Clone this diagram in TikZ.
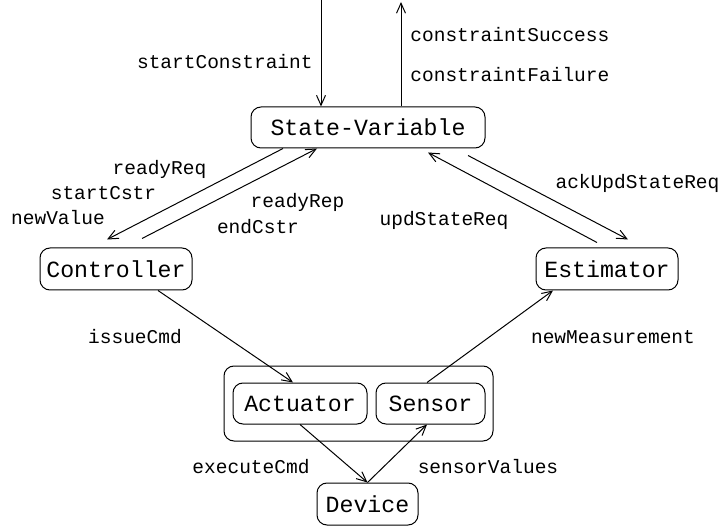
\documentclass[tikz,border=0pt]{standalone}
\usepackage{fontspec}
\setmonofont{Liberation Mono}
\usepackage{tikz}
\usetikzlibrary{arrows.meta,positioning}

\tikzset{
	block/.style={draw, rounded corners=5pt, line width=0.5pt, inner sep=0pt,
		minimum height=20.5pt, font=\fontsize{11.6}{13}\ttfamily},
	lbl/.style={inner sep=0pt, font=\fontsize{9.75}{11}\ttfamily},
	msg/.style={-{Straight Barb[length=5pt,width=4.5pt]}, line width=0.5pt}
}

\begin{document}
\begin{tikzpicture}[x=0.5pt,y=-0.5pt]

	\useasboundingbox (0,0) rectangle (723,529);

	% boxes
	\node (SV)[block, minimum width=117pt] at (368,127.5) {State-Variable};
	\node (Ctrl)[block, minimum width=76pt, minimum height=21pt] at (116,269) {Controller};
	\node (Est)[block, minimum width=71pt, minimum height=21pt] at (607,269) {Estimator};
	\node (Grp)[block, minimum width=134.5pt, minimum height=37.5pt] at (358.5,403.5) {};
	\node (Act)[block, minimum width=67pt] at (300,403.5) {Actuator};
	\node (Sen)[block, minimum width=54.5pt] at (430.5,403.5) {Sensor};
	\node (Dev)[block, minimum width=50.5pt, minimum height=21pt] at (367.5,504) {Device};

	% free ends at the top
	\coordinate (inTop) at (321,0);
	\coordinate (outTop) at (401,2);

	\draw [msg] (inTop) to (inTop |- SV.north);
	\draw [msg] (outTop |- SV.north) to (outTop);

	\draw [msg] ([xshift=-42.5pt]SV.south) to ([xshift=-4.5pt,yshift=4pt]Ctrl.north);
	\draw [msg] ([xshift=13pt,yshift=4.5pt]Ctrl.north) to ([xshift=-25.5pt]SV.south);
	\draw [msg] ([xshift=-5pt,yshift=2.5pt]Est.north) to ([xshift=30pt,yshift=-2pt]SV.south);
	\draw [msg] ([xshift=50pt,yshift=-3.5pt]SV.south) to ([xshift=10.5pt,yshift=4pt]Est.north);

	\draw [msg] ([xshift=21pt]Ctrl.south) to ([xshift=-3.5pt]Act.north);
	\draw [msg] ([xshift=-1.75pt]Sen.north) to ([xshift=-27pt]Est.south);
	\draw [msg] (Act.south) to (Dev.north);
	\draw [msg] (Dev.north) to ([xshift=-1.75pt]Sen.south);

	% labels
	\node (lStart)[lbl, anchor=east] at (313,62) {startConstraint};
	\node (lSucc)[lbl, anchor=west] at (410,35) {constraintSuccess};
	\node (lFail)[lbl, anchor=west] at (410,75) {constraintFailure};

	\node (lReq)[lbl] at (159.5,169) {readyReq};
	\node (lStCs)[lbl] at (103.5,193) {startCstr};
	\node (lVal)[lbl] at (58,218) {newValue};
	\node (lRep)[lbl] at (297.5,202) {readyRep};
	\node (lEnd)[lbl] at (258,227) {endCstr};

	\node (lAck)[lbl] at (637.5,183) {ackUpdStateReq};
	\node (lUpd)[lbl] at (444,220) {updStateReq};

	\node (lCmd)[lbl] at (135,337) {issueCmd};
	\node (lMeas)[lbl] at (613,337) {newMeasurement};
	\node (lExe)[lbl] at (251,467) {executeCmd};
	\node (lSVal)[lbl] at (488,467) {sensorValues};

\end{tikzpicture}
\end{document}
